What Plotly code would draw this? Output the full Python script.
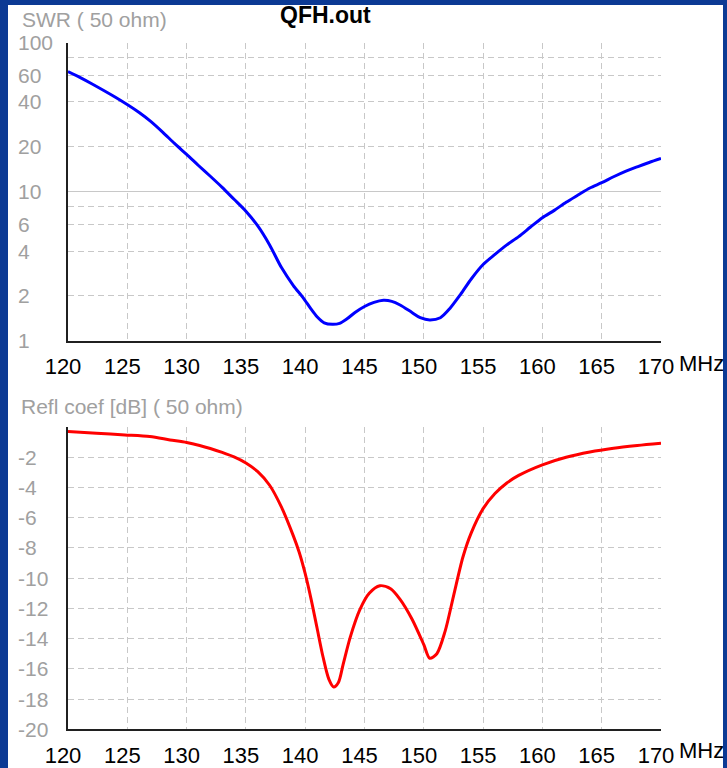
import math
import plotly.graph_objects as go

# ---------------- data ----------------
freq_swr = [120, 121, 122, 124, 126, 127, 128, 129, 130, 131, 132, 133, 134, 135, 136, 137, 138, 139,
            139.8, 140.5, 141, 141.6, 142.3, 142.9, 143.5, 144.2, 145, 145.8, 146.6, 147.3, 148, 149,
            149.7, 150.5, 151.4, 152.2, 153.1, 154, 155, 156, 157, 158, 159, 160, 161, 162, 163, 164,
            165, 166, 167, 168, 169, 170]
swr = [64, 58.5, 53, 43, 34, 29.5, 25, 21, 17.8, 15.0, 12.7, 10.7, 8.9, 7.4, 5.9, 4.4, 3.1, 2.35,
       1.96, 1.63, 1.45, 1.32, 1.29, 1.31, 1.4, 1.55, 1.7, 1.81, 1.87, 1.84, 1.74, 1.55,
       1.43, 1.38, 1.43, 1.65, 2.05, 2.6, 3.25, 3.8, 4.4, 5.0, 5.8, 6.7, 7.5, 8.5, 9.5, 10.6,
       11.5, 12.6, 13.7, 14.7, 15.7, 16.7]

freq_rc = [120, 122.4, 124.8, 126.9, 128.6, 130, 131.1, 132, 133, 134, 135, 136, 137, 138, 139, 139.5,
           140, 140.5, 141, 141.5, 142, 142.4, 142.8, 143.2, 143.8, 144.6, 145.4, 146.3, 147.2, 148,
           149, 150, 150.5, 151.1, 151.8, 152.5, 153.3, 154, 155, 156, 157, 158, 160, 162, 164, 166,
           168, 170]
refl_db = [-0.30, -0.41, -0.52, -0.63, -0.85, -1.02, -1.22, -1.42, -1.68, -1.98, -2.38, -2.95, -3.85,
           -5.3, -7.2, -8.3, -9.7, -11.4, -13.3, -15.2, -16.7, -17.2, -16.9, -15.7, -13.9, -12.1,
           -11.0, -10.5, -10.7, -11.4, -12.7, -14.4, -15.3, -15.0, -13.5, -11.2, -8.6, -7.0, -5.4,
           -4.4, -3.7, -3.2, -2.5, -2.0, -1.65, -1.4, -1.22, -1.07]

x_ticks = [120, 125, 130, 135, 140, 145, 150, 155, 160, 165, 170]
swr_grid = [2, 4, 6, 8, 20, 40, 60, 80]
swr_solid = [10, 100]
swr_labels = [100, 60, 40, 20, 10, 6, 4, 2, 1]
rc_grid = [-2, -4, -6, -8, -10, -12, -14, -16, -18]
rc_labels = [-2, -4, -6, -8, -10, -12, -14, -16, -18, -20]

title_top = "SWR ( 50 ohm)"
title_bot = "Refl coef [dB] ( 50 ohm)"
file_name = "QFH.out"
unit = "MHz"

# ---------------- style ----------------
W, H = 727, 768
L, R = 68, 66
PW = W - L - R
GRID = "#c8c8c8"
GRAY_TXT = "#a0a0a0"
SANS = "Liberation Sans, Arial, sans-serif"


def py(p):
    return 1 - p / H


fig = go.Figure()
fig.add_trace(go.Scatter(x=freq_swr, y=swr, mode="lines", xaxis="x", yaxis="y",
                         line=dict(color="#0000ff", width=3, shape="spline", smoothing=0.8),
                         showlegend=False, hoverinfo="skip"))
fig.add_trace(go.Scatter(x=freq_rc, y=refl_db, mode="lines", xaxis="x2", yaxis="y2",
                         line=dict(color="#ff0000", width=3, shape="spline", smoothing=0.8),
                         showlegend=False, hoverinfo="skip"))

xcommon = dict(range=[120, 170], tickvals=x_ticks, ticktext=[str(v) for v in x_ticks],
               showgrid=True, gridcolor=GRID, griddash="6px,4px", gridwidth=1,
               showline=True, linecolor="#202020", linewidth=2, ticks="",
               tickfont=dict(family=SANS, size=22, color="#000000"),
               zeroline=False, fixedrange=True, ticklabelshift=-5, ticklabelstandoff=5)

fig.update_layout(
    width=W, height=H,
    margin=dict(l=L, r=R, t=0, b=0, pad=0),
    paper_bgcolor="#0c3a94",
    plot_bgcolor="rgba(0,0,0,0)",
    xaxis=dict(domain=[0, 1], anchor="y", **xcommon),
    yaxis=dict(domain=[py(344), py(43)], type="log", range=[0, 2], tickvals=swr_grid,
               showticklabels=False, showgrid=True, gridcolor=GRID, griddash="6px,4px",
               showline=True, linecolor="#202020", linewidth=2, ticks="", zeroline=False),
    yaxis3=dict(domain=[py(344), py(43)], type="log", range=[0, 2], tickvals=swr_solid,
                overlaying="y", showticklabels=False, showgrid=True, gridcolor=GRID,
                griddash="solid", showline=False, ticks="", zeroline=False),
    xaxis2=dict(domain=[0, 1], anchor="y2", **xcommon),
    yaxis2=dict(domain=[py(736), py(431)], range=[-20, 0], tickvals=rc_grid,
                showticklabels=False, showgrid=True, gridcolor=GRID, griddash="6px,4px",
                showline=True, linecolor="#202020", linewidth=2, ticks="", zeroline=False),
)
# empty trace to activate the overlay axis carrying the solid 10 / 100 lines
fig.add_trace(go.Scatter(x=[None], y=[None], xaxis="x", yaxis="y3", showlegend=False))

# white window area inside the blue frame
fig.add_shape(type="rect", xref="paper", yref="paper",
              x0=(8 - L) / PW, x1=(723 - L) / PW, y0=-0.05, y1=py(5),
              fillcolor="#ffffff", line=dict(width=0), layer="below")

ann = []
for v in swr_labels:
    ann.append(dict(x=120, y=math.log10(v), xref="x", yref="y", text=str(v),
                    xanchor="left", yanchor="middle", xshift=-52, showarrow=False,
                    font=dict(family=SANS, size=21, color=GRAY_TXT)))
for v in rc_labels:
    ann.append(dict(x=120, y=v, xref="x2", yref="y2", text=str(v),
                    xanchor="left", yanchor="middle", xshift=-52, showarrow=False,
                    font=dict(family=SANS, size=21, color=GRAY_TXT)))
ann.append(dict(x=170, y=0, xref="x", yref="y", text=unit, xanchor="left", yanchor="middle",
                xshift=16, yshift=-23, showarrow=False,
                font=dict(family=SANS, size=22, color="#000000")))
ann.append(dict(x=170, y=-20, xref="x2", yref="y2", text=unit, xanchor="left", yanchor="middle",
                xshift=16, yshift=-21, showarrow=False,
                font=dict(family=SANS, size=22, color="#000000")))
ann.append(dict(x=(20 - L) / PW, y=py(20), xref="paper", yref="paper", text=title_top,
                xanchor="left", yanchor="middle", showarrow=False,
                font=dict(family=SANS, size=21, color=GRAY_TXT)))
ann.append(dict(x=(278 - L) / PW, y=py(15), xref="paper", yref="paper", text="<b>%s</b>" % file_name,
                xanchor="left", yanchor="middle", showarrow=False,
                font=dict(family=SANS, size=23, color="#000000")))
ann.append(dict(x=(19 - L) / PW, y=py(410), xref="paper", yref="paper", text=title_bot,
                xanchor="left", yanchor="middle", showarrow=False,
                font=dict(family=SANS, size=21, color=GRAY_TXT)))
fig.update_layout(annotations=ann)

fig.write_html("out.html")
